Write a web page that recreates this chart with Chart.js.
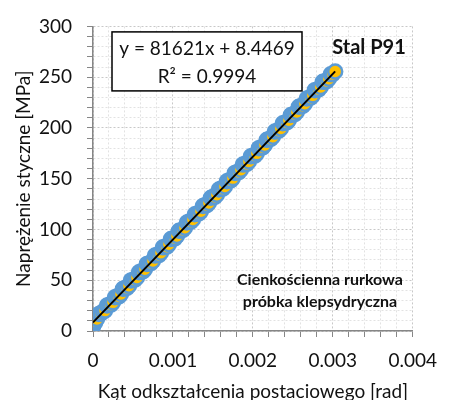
<!DOCTYPE html>
<html>
<head>
<meta charset="utf-8">
<script src="https://cdn.jsdelivr.net/npm/chart.js@4"></script>
<style>
  body { margin: 0; background: #fff; }
  canvas { display: block; }
</style>
</head>
<body>
<canvas id="chart" width="449" height="400"></canvas>
<script>
// kąt odkształcenia postaciowego [rad]
const strain = [0, 0.00001, 0.000025, 0.00003, 0.00005, 0.000075, 0.0001, 0.000125, 0.00015, 0.000175,
  0.0002, 0.000225, 0.00025, 0.000275, 0.0003, 0.000325, 0.00035, 0.000375, 0.0004, 0.000425,
  0.00045, 0.000475, 0.0005, 0.000525, 0.00055, 0.000575, 0.0006, 0.000625, 0.00065, 0.000675,
  0.0007, 0.000725, 0.00075, 0.000775, 0.0008, 0.000825, 0.00085, 0.000875, 0.0009, 0.000925,
  0.00095, 0.000975, 0.001, 0.001025, 0.00105, 0.001075, 0.0011, 0.001125, 0.00115, 0.001175,
  0.0012, 0.001225, 0.00125, 0.001275, 0.0013, 0.001325, 0.00135, 0.001375, 0.0014, 0.001425,
  0.00145, 0.001475, 0.0015, 0.001525, 0.00155, 0.001575, 0.0016, 0.001625, 0.00165, 0.001675,
  0.0017, 0.001725, 0.00175, 0.001775, 0.0018, 0.001825, 0.00185, 0.001875, 0.0019, 0.001925,
  0.00195, 0.001975, 0.002, 0.002025, 0.00205, 0.002075, 0.0021, 0.002125, 0.00215, 0.002175,
  0.0022, 0.002225, 0.00225, 0.002275, 0.0023, 0.002325, 0.00235, 0.002375, 0.0024, 0.002425,
  0.00245, 0.002475, 0.0025, 0.002525, 0.00255, 0.002575, 0.0026, 0.002625, 0.00265, 0.002675,
  0.0027, 0.002725, 0.00275, 0.002775, 0.0028, 0.002825, 0.00285, 0.002875, 0.0029, 0.002925,
  0.00295, 0.002975, 0.003, 0.00303];
// naprężenie styczne [MPa]
const stress = [4.5, 7.2, 8.1, 9.8, 11.9, 16.8, 17.3, 19.2, 20.1, 25.1,
  25.6, 26.0, 28.2, 33.2, 33.9, 34.1, 36.5, 41.6, 42.0, 42.5,
  44.6, 49.8, 50.3, 50.6, 52.8, 57.9, 58.5, 58.7, 60.9, 66.1,
  66.6, 66.9, 69.0, 74.3, 74.9, 74.8, 77.1, 82.4, 82.8, 83.1,
  85.4, 90.6, 91.2, 91.3, 93.6, 98.7, 99.1, 99.5, 101.7, 106.9,
  107.5, 107.6, 109.8, 115.0, 115.6, 115.8, 117.9, 123.1, 123.8, 123.9,
  126.1, 131.2, 131.9, 132.0, 134.2, 139.4, 140.1, 140.2, 142.4, 147.5,
  148.2, 148.3, 150.6, 155.7, 156.3, 156.5, 158.8, 163.9, 164.5, 164.6,
  166.9, 172.0, 172.6, 172.8, 175.0, 180.1, 180.7, 180.9, 183.2, 188.3,
  188.9, 189.1, 191.4, 196.4, 197.0, 197.2, 199.5, 204.6, 205.1, 205.4,
  207.6, 212.7, 213.2, 213.5, 215.8, 220.9, 221.4, 221.7, 223.9, 229.0,
  229.5, 229.8, 232.1, 237.2, 237.6, 238.0, 240.3, 245.4, 245.8, 246.1,
  248.4, 252.9, 253.0, 255.6];

// linia trendu z równania na wykresie
const slope = 81621;
const intercept = 8.4469;
const rSquared = 0.9994;
const trendX = [0, 0.00303];

const yTicks = [0, 50, 100, 150, 200, 250, 300];
const xTicks = [0, 0.001, 0.002, 0.003, 0.004];

const points = strain.map((x, i) => ({x: x, y: stress[i]}));
const trend = trendX.map(x => ({x: x, y: slope * x + intercept}));

const FONT = 'Lato, "Open Sans", sans-serif';

const isMajorX = v => xTicks.some(t => Math.abs(t - v) < 1e-9);
const isMajorY = v => yTicks.includes(Math.round(v));

const labelsPlugin = {
  id: 'labels',
  afterDraw(chart) {
    const c = chart.ctx;
    const a = chart.chartArea;
    c.save();
    // ramka z równaniem
    c.strokeStyle = '#000';
    c.lineWidth = 1.5;
    c.fillStyle = '#fff';
    c.fillRect(a.left + 19, a.top + 5.5, 190, 59);
    c.strokeRect(a.left + 19, a.top + 5.5, 190, 59);
    c.fillStyle = '#111';
    c.textAlign = 'center';
    c.textBaseline = 'middle';
    c.font = '19px ' + FONT;
    c.fillText('y = ' + slope + 'x + ' + intercept, a.left + 114, a.top + 22);
    c.fillText('R² = ' + rSquared, a.left + 114, a.top + 50);
    c.font = 'bold 20px ' + FONT;
    c.fillText('Stal P91', a.left + 276, a.top + 21);
    c.font = 'bold 16px ' + FONT;
    c.fillText('Cienkościenna rurkowa', a.left + 227, a.top + 253);
    c.fillText('próbka klepsydryczna', a.left + 227, a.top + 275);
    c.restore();
  }
};

new Chart(document.getElementById('chart'), {
  type: 'scatter',
  data: {
    datasets: [
      {
        data: trend,
        showLine: true,
        borderColor: '#000',
        borderWidth: 2,
        pointRadius: 0,
        order: 0
      },
      {
        data: points,
        pointRadius: 7,
        pointBackgroundColor: '#ffc000',
        pointBorderColor: '#5b9bd5',
        pointBorderWidth: 2.5,
        order: 1
      }
    ]
  },
  options: {
    responsive: false,
    animation: false,
    layout: {padding: {left: 0, top: 23, right: 27, bottom: 0}},
    plugins: {legend: {display: false}, tooltip: {enabled: false}},
    scales: {
      x: {
        type: 'linear',
        min: 0,
        max: 0.004,
        afterFit: s => { s.height = 69; },
        ticks: {
          stepSize: 0.0002,
          autoSkip: false,
          maxRotation: 0,
          padding: 12,
          color: '#111',
          font: {family: FONT, size: 19},
          callback: v => isMajorX(v) ? String(Math.round(v * 1000) / 1000) : ''
        },
        grid: {
          color: ctx => ctx.tick && isMajorX(ctx.tick.value) ? '#c8c8c8' : '#e2e2e2',
          tickColor: '#868686',
          tickLength: 6,
          lineWidth: 1
        },
        border: {color: '#868686', width: 1.5, dash: [2, 2]},
        title: {
          display: true,
          text: 'Kąt odkształcenia postaciowego [rad]',
          color: '#111',
          font: {family: FONT, size: 19},
          padding: {top: 0, bottom: -3}
        }
      },
      y: {
        min: 0,
        max: 300,
        afterFit: s => { s.width = 93; },
        ticks: {
          stepSize: 10,
          autoSkip: false,
          padding: 15,
          color: '#111',
          font: {family: FONT, size: 19},
          callback: v => isMajorY(v) ? String(v) : ''
        },
        grid: {
          color: ctx => ctx.tick && isMajorY(ctx.tick.value) ? '#c8c8c8' : '#e2e2e2',
          tickColor: '#868686',
          tickLength: 6,
          lineWidth: 1
        },
        border: {color: '#868686', width: 1.5, dash: [2, 2]},
        title: {
          display: true,
          text: 'Naprężenie styczne [MPa]',
          color: '#111',
          font: {family: FONT, size: 19},
          padding: {top: 12, bottom: 0}
        }
      }
    }
  },
  plugins: [labelsPlugin]
});
</script>
</body>
</html>
